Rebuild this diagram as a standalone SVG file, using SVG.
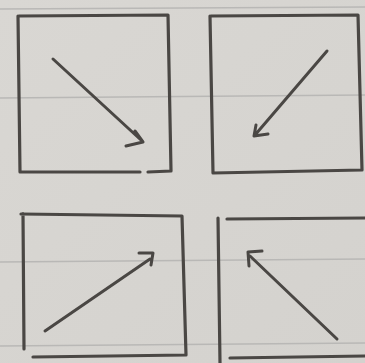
<svg xmlns="http://www.w3.org/2000/svg" width="365" height="363" viewBox="0 0 365 363">
<defs>
<style>
.ln{stroke:#b9b8b6;stroke-width:1.5;fill:none}
.bx{fill:none;stroke:#4a4744;stroke-width:3.2;stroke-linecap:round;stroke-linejoin:round}
.ar{fill:none;stroke:#4a4744;stroke-width:3;stroke-linecap:round;stroke-linejoin:round}
</style>
<linearGradient id="bg" x1="0" y1="0" x2="1" y2="1">
<stop offset="0" stop-color="#d9d7d3"/>
<stop offset="1" stop-color="#d4d2ce"/>
</linearGradient>
</defs>
<rect width="365" height="363" fill="url(#bg)"/>
<g id="paper-lines">
<path class="ln" d="M0 9 L365 7"/>
<path class="ln" d="M0 98 L365 95"/>
<path class="ln" d="M0 262 L365 259"/>
<path class="ln" d="M0 346 L365 343"/>
</g>
<g id="box-tl">
<path class="bx" d="M19 16 L168 15 L171 171 L148 172 M140 172 L20 172 L18 16"/>
</g>
<g id="box-tr">
<path class="bx" d="M211 16 L358 15 L362 170 L213 173 L210 16"/>
</g>
<g id="box-bl">
<path class="bx" d="M21 214 L182 216 L186 355 L33 357 M23 214 L24 349"/>
</g>
<g id="box-br">
<path class="bx" d="M218 218 L220 363 M227 219 L365 218 M230 358 L365 356"/>
</g>
<g id="connectors">
<path class="ar" d="M53 59 L141 140 M126 146 L143 142 L135 131"/>
<path class="ar" d="M327 51 L255 135 M256 125 L254 136 L268 134"/>
<path class="ar" d="M45 331 L150 259 M139 253 L153 253 L151 265"/>
<path class="ar" d="M337 339 L250 256 M249 266 L248 252 L262 251"/>
</g>
</svg>
